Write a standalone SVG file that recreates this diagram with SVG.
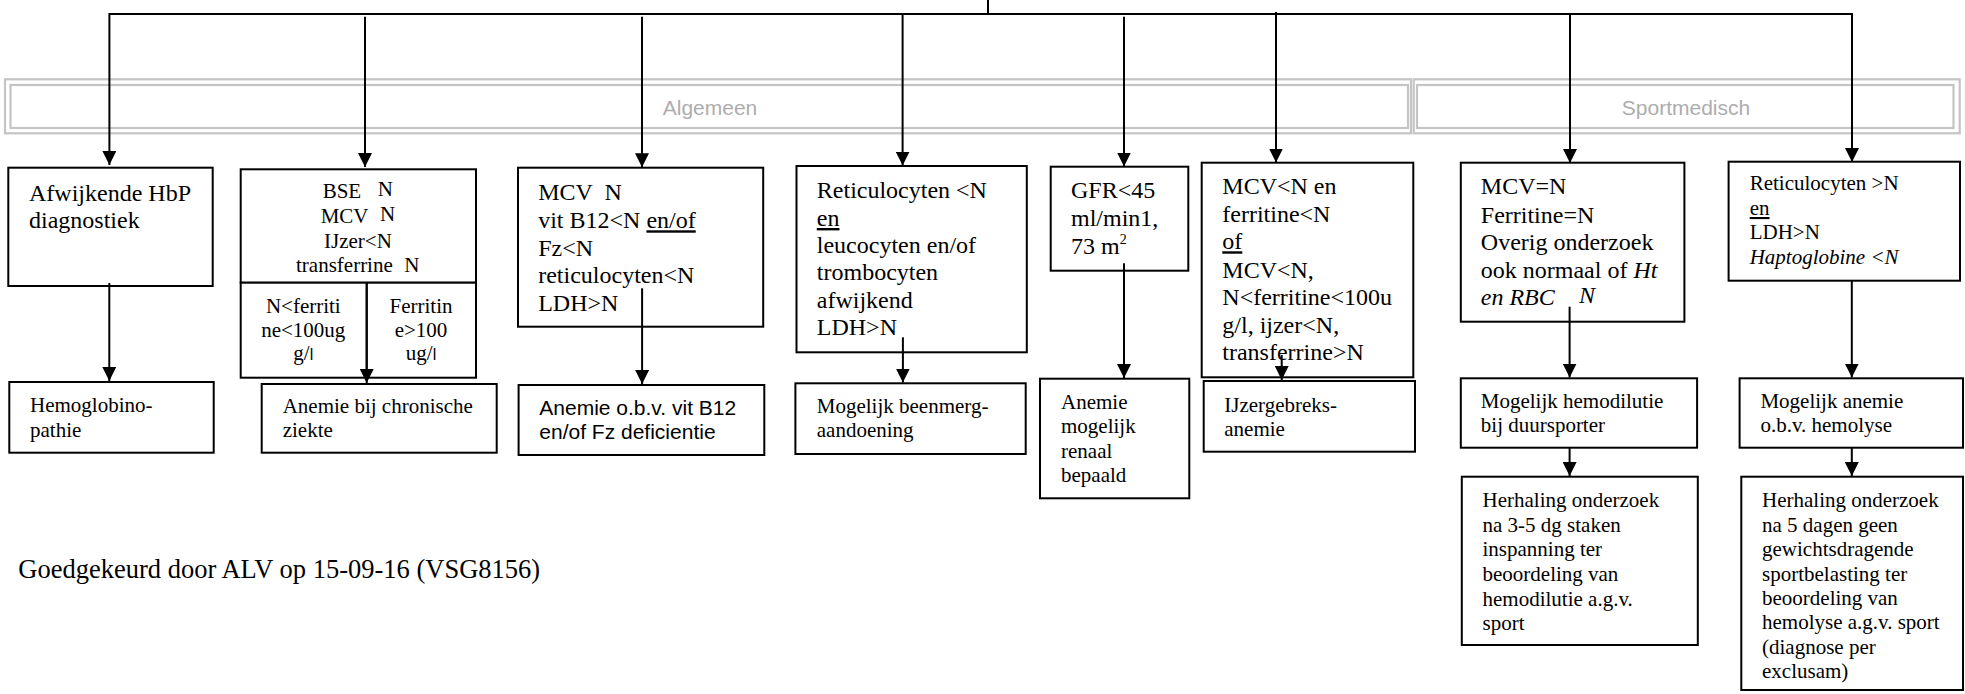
<svg xmlns="http://www.w3.org/2000/svg" width="1965" height="694" viewBox="0 0 1965 694">
<style>
  .box { fill: #fff; stroke: #000; stroke-width: 2; }
  .t { font-family: "Liberation Serif", "Times New Roman", serif; font-size: 21px; fill: #000; }
  .t24 { font-size: 24px; }
  .foot { font-size: 26.5px; }
  .sans { font-family: "Liberation Sans", Arial, sans-serif; }
  .mid { text-anchor: middle; }
  .u { text-decoration: underline; }
  .i { font-style: italic; }
  .conn { stroke: #000; stroke-width: 2; fill: none; }
  .band { fill: none; stroke: #c4c4c4; stroke-width: 2.2; }
  .bandtext { font-family: "Liberation Sans", Arial, sans-serif; font-size: 21px; fill: #adadad; text-anchor: middle; }
</style>
<defs>
  <marker id="ah" markerUnits="userSpaceOnUse" markerWidth="14" markerHeight="14" refX="14" refY="7" orient="auto">
    <path d="M0,0 L14,7 L0,14 z" fill="#000"/>
  </marker>
</defs>
<rect width="1965" height="694" fill="#fff"/>

<g id="band-algemeen">
  <rect class="band" x="5" y="79.3" width="1406" height="54"/>
  <rect class="band" x="10.5" y="85" width="1397.5" height="43"/>
  <text class="bandtext" x="710" y="115">Algemeen</text>
</g>
<g id="band-sportmedisch">
  <rect class="band" x="1413.7" y="79.3" width="546" height="54"/>
  <rect class="band" x="1417" y="85" width="536.5" height="43"/>
  <text class="bandtext" x="1686" y="115">Sportmedisch</text>
</g>

<g id="n1">
  <rect class="box" x="8.3" y="167.7" width="204.4" height="118.3"/>
  <text class="t t24"><tspan x="29" y="200.7">Afwijkende HbP</tspan><tspan x="29" y="227.7">diagnostiek</tspan></text>
</g>
<g id="n2">
  <rect class="box" x="240.7" y="169.3" width="235.3" height="113.4"/>
  <rect class="box" x="240.7" y="282.7" width="235.3" height="95"/>
  <line class="conn" x1="366.7" y1="282.7" x2="366.7" y2="377.7"/>
  <text class="t" x="322.7" y="198.3">BSE</text><text class="t" x="377.7" y="196">N</text>
  <text class="t" x="320.7" y="223.3">MCV</text><text class="t" x="380" y="220.7">N</text>
  <text class="t" x="324" y="248.3">IJzer&lt;N</text>
  <text class="t" x="296" y="271.7">transferrine</text><text class="t" x="404.3" y="271.7">N</text>
  <text class="t mid"><tspan x="303.3" y="313.3">N&lt;ferriti</tspan><tspan x="303.3" y="336.7">ne&lt;100ug</tspan><tspan x="303.3" y="360">g/<tspan class="sans" font-size="16">l</tspan></tspan></text>
  <text class="t mid"><tspan x="421" y="313.3">Ferritin</tspan><tspan x="421" y="336.7">e&gt;100</tspan><tspan x="421" y="360">ug/<tspan class="sans" font-size="16">l</tspan></tspan></text>
</g>
<g id="n3">
  <rect class="box" x="518" y="167.7" width="245.2" height="159"/>
  <text class="t t24"><tspan x="538.2" y="200">MCV</tspan><tspan x="604.6" y="200">N</tspan><tspan x="538.2" y="228.3">vit B12&lt;N <tspan class="u">en/of</tspan></tspan><tspan x="538.2" y="256">Fz&lt;N</tspan><tspan x="538.2" y="283.3">reticulocyten&lt;N</tspan><tspan x="538.2" y="311">LDH&gt;N</tspan></text>
</g>
<g id="n4">
  <rect class="box" x="796.5" y="166" width="230.3" height="186.3"/>
  <text class="t t24"><tspan x="816.8" y="197.7">Reticulocyten &lt;N</tspan><tspan x="816.8" y="226" class="u">en</tspan><tspan x="816.8" y="252.7">leucocyten en/of</tspan><tspan x="816.8" y="280">trombocyten</tspan><tspan x="816.8" y="307.7">afwijkend</tspan><tspan x="816.8" y="335">LDH&gt;N</tspan></text>
</g>
<g id="n5">
  <rect class="box" x="1050.7" y="166.7" width="137.6" height="104"/>
  <text class="t t24"><tspan x="1071" y="198.3">GFR&lt;45</tspan><tspan x="1071" y="226">ml/min1,</tspan><tspan x="1071" y="254">73 m<tspan font-size="14" dy="-10">2</tspan></tspan></text>
</g>
<g id="n6">
  <rect class="box" x="1201.7" y="162.7" width="211.6" height="214.6"/>
  <text class="t t24"><tspan x="1222.3" y="194.3">MCV&lt;N en</tspan><tspan x="1222.3" y="222">ferritine&lt;N</tspan><tspan x="1222.3" y="249.3" class="u">of</tspan><tspan x="1222.3" y="277.7">MCV&lt;N,</tspan><tspan x="1222.3" y="305">N&lt;ferritine&lt;100u</tspan><tspan x="1222.3" y="332.7">g/l, ijzer&lt;N,</tspan><tspan x="1222.3" y="360">transferrine&gt;N</tspan></text>
</g>
<g id="n7">
  <rect class="box" x="1460.8" y="162.7" width="223.6" height="159"/>
  <text class="t t24"><tspan x="1480.8" y="194.3">MCV=N</tspan><tspan x="1480.8" y="222.7">Ferritine=N</tspan><tspan x="1480.8" y="250">Overig onderzoek</tspan><tspan x="1480.8" y="277.7">ook normaal of <tspan class="i">Ht</tspan></tspan><tspan x="1480.8" y="305" class="i">en RBC</tspan><tspan x="1579" y="302.7" class="i">N</tspan></text>
</g>
<g id="n8">
  <rect class="box" x="1728.6" y="161.7" width="231.4" height="119"/>
  <text class="t"><tspan x="1749.7" y="190">Reticulocyten &gt;N</tspan><tspan x="1749.7" y="215" class="u">en</tspan><tspan x="1749.7" y="239.3">LDH&gt;N</tspan><tspan x="1749.7" y="264" class="i">Haptoglobine &lt;N</tspan></text>
</g>

<g id="r1">
  <rect class="box" x="9.3" y="382" width="204.4" height="70.7"/>
  <text class="t"><tspan x="30" y="412">Hemoglobino-</tspan><tspan x="30" y="436.7">pathie</tspan></text>
</g>
<g id="r2">
  <rect class="box" x="261.7" y="384" width="235" height="68.7"/>
  <text class="t"><tspan x="282.7" y="413.3">Anemie bij chronische</tspan><tspan x="282.7" y="437.3">ziekte</tspan></text>
</g>
<g id="r3">
  <rect class="box" x="518.6" y="385" width="245.7" height="70"/>
  <text class="t sans"><tspan x="539.3" y="415">Anemie o.b.v. vit B12</tspan><tspan x="539.3" y="439.3">en/of Fz deficientie</tspan></text>
</g>
<g id="r4">
  <rect class="box" x="795.4" y="383.3" width="230.3" height="70.7"/>
  <text class="t"><tspan x="816.8" y="413.3">Mogelijk beenmerg-</tspan><tspan x="816.8" y="437.3">aandoening</tspan></text>
</g>
<g id="r5">
  <rect class="box" x="1040" y="378.7" width="149.3" height="119.6"/>
  <text class="t"><tspan x="1061" y="409">Anemie</tspan><tspan x="1061" y="433.3">mogelijk</tspan><tspan x="1061" y="457.7">renaal</tspan><tspan x="1061" y="482.3">bepaald</tspan></text>
</g>
<g id="r6">
  <rect class="box" x="1203.7" y="381" width="211.3" height="70.7"/>
  <text class="t"><tspan x="1224.3" y="411.7">IJzergebreks-</tspan><tspan x="1224.3" y="435.7">anemie</tspan></text>
</g>
<g id="r7">
  <rect class="box" x="1460.8" y="378.3" width="236.3" height="69.4"/>
  <text class="t"><tspan x="1480.8" y="408.3">Mogelijk hemodilutie</tspan><tspan x="1480.8" y="431.7">bij duursporter</tspan></text>
</g>
<g id="r8">
  <rect class="box" x="1739.6" y="378.3" width="223.4" height="69.4"/>
  <text class="t"><tspan x="1760.4" y="408.3">Mogelijk anemie</tspan><tspan x="1760.4" y="431.7">o.b.v. hemolyse</tspan></text>
</g>
<g id="h1">
  <rect class="box" x="1461.8" y="476.7" width="236" height="168.3"/>
  <text class="t"><tspan x="1482.5" y="507.3">Herhaling onderzoek</tspan><tspan x="1482.5" y="531.7">na 3-5 dg staken</tspan><tspan x="1482.5" y="556.4">inspanning ter</tspan><tspan x="1482.5" y="581.3">beoordeling van</tspan><tspan x="1482.5" y="606.2">hemodilutie a.g.v.</tspan><tspan x="1482.5" y="630.4">sport</tspan></text>
</g>
<g id="h2">
  <rect class="box" x="1741.3" y="476.7" width="221.7" height="213.3"/>
  <text class="t"><tspan x="1762" y="507.3">Herhaling onderzoek</tspan><tspan x="1762" y="531.7">na 5 dagen geen</tspan><tspan x="1762" y="556.1">gewichtsdragende</tspan><tspan x="1762" y="580.5">sportbelasting ter</tspan><tspan x="1762" y="604.9">beoordeling van</tspan><tspan x="1762" y="629.3">hemolyse a.g.v. sport</tspan><tspan x="1762" y="653.7">(diagnose per</tspan><tspan x="1762" y="678.1">exclusam)</tspan></text>
</g>

<g id="footer">
  <text class="t foot" x="18.3" y="578.3">Goedgekeurd door ALV op 15-09-16 (VSG8156)</text>
</g>

<g id="connectors">
  <line class="conn" x1="988" y1="0" x2="988" y2="14"/>
  <path class="conn" d="M109.4,14 H1852"/>
  <line class="conn" x1="109.4" y1="13" x2="109.4" y2="165" marker-end="url(#ah)"/>
  <line class="conn" x1="365" y1="16.7" x2="365" y2="167" marker-end="url(#ah)"/>
  <line class="conn" x1="642" y1="16.7" x2="642" y2="167.3" marker-end="url(#ah)"/>
  <line class="conn" x1="902.6" y1="14" x2="902.6" y2="165.5" marker-end="url(#ah)"/>
  <line class="conn" x1="1124" y1="16.7" x2="1124" y2="166.5" marker-end="url(#ah)"/>
  <line class="conn" x1="1276" y1="12" x2="1276" y2="162.5" marker-end="url(#ah)"/>
  <line class="conn" x1="1570" y1="14" x2="1570" y2="163" marker-end="url(#ah)"/>
  <line class="conn" x1="1852" y1="13" x2="1852" y2="162" marker-end="url(#ah)"/>
  <line class="conn" x1="109.3" y1="283" x2="109.3" y2="381" marker-end="url(#ah)"/>
  <line class="conn" x1="366.7" y1="282.7" x2="366.7" y2="383" marker-end="url(#ah)"/>
  <line class="conn" x1="642.1" y1="288.3" x2="642.1" y2="384" marker-end="url(#ah)"/>
  <line class="conn" x1="902.9" y1="337.3" x2="902.9" y2="382.5" marker-end="url(#ah)"/>
  <line class="conn" x1="1124" y1="263.3" x2="1124" y2="378" marker-end="url(#ah)"/>
  <line class="conn" x1="1281.7" y1="355" x2="1281.7" y2="380" marker-end="url(#ah)"/>
  <line class="conn" x1="1569.6" y1="306.7" x2="1569.6" y2="377.5" marker-end="url(#ah)"/>
  <line class="conn" x1="1851.8" y1="280.7" x2="1851.8" y2="377.5" marker-end="url(#ah)"/>
  <line class="conn" x1="1569.6" y1="447.7" x2="1569.6" y2="476" marker-end="url(#ah)"/>
  <line class="conn" x1="1851.8" y1="447.7" x2="1851.8" y2="476" marker-end="url(#ah)"/>
</g>
</svg>
